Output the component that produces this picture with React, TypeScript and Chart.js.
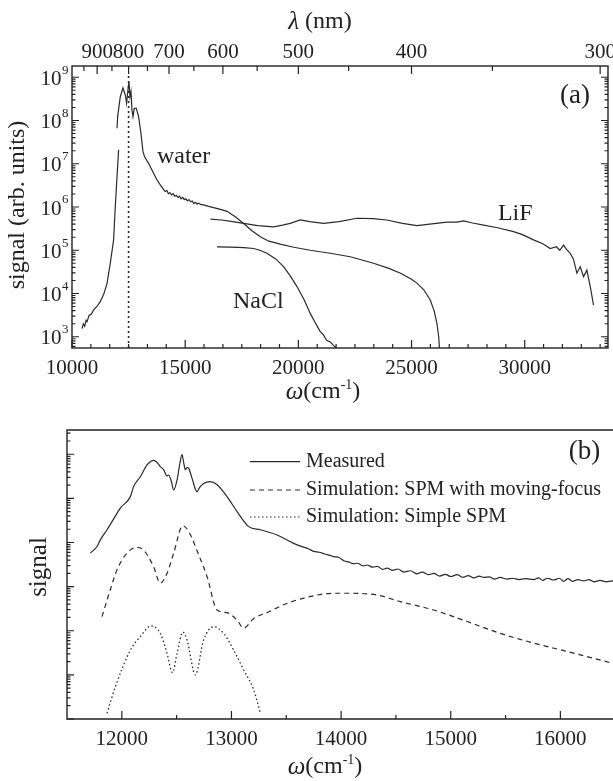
import React, { useEffect, useRef } from 'react';
import { Chart, registerables } from 'chart.js';

Chart.register(...registerables);

const INK = '#222222';
const LINE = '#2a2a2a';
const SERIF = '"Liberation Serif", "DejaVu Serif", serif';

// ---------------- Panel (a): ω in cm^-1, signal as log10 ----------------
const waterOmega = [10442, 10500, 10560, 10620, 10663, 10760, 10850, 10957, 11100, 11250, 11400, 11546, 11692, 11838, 11913, 11988, 12059,
  12059, 11988, 12017, 12133, 12252, 12354, 12412, 12473, 12517, 12561, 12606, 12650, 12694, 12752, 12840, 12943, 13047, 13136, 13207,
  13384, 13604, 13750, 13900, 14050, 14120, 14190, 14260, 14330, 14400, 14470, 14540, 14610, 14680, 14750, 14820, 14890, 14960, 15030,
  15100, 15170, 15240, 15310, 15380, 15450, 15520, 15600, 15675, 15800, 16000, 16300, 16600, 16846, 17200, 17580, 17950, 18317, 18700,
  19200, 19800, 20526, 21409, 22293, 23322, 24000, 24515, 25000, 25240, 25550, 25826, 26000, 26122, 26200, 26240];
const waterLog10 = [3.19, 3.30, 3.24, 3.38, 3.35, 3.50, 3.52, 3.62, 3.70, 3.81, 3.98, 4.23, 4.70, 5.24, 6.01, 6.70, 7.32,
  null, 7.82, 8.09, 8.55, 8.75, 8.59, 8.40, 8.71, 8.90, 8.55, 8.67, 8.24, 8.09, 8.28, 8.28, 8.09, 7.70, 7.28, 7.16,
  7.01, 6.78, 6.63, 6.51, 6.40, 6.36, 6.38, 6.31, 6.33, 6.28, 6.31, 6.25, 6.27, 6.22, 6.25, 6.19, 6.22, 6.17, 6.19,
  6.14, 6.17, 6.12, 6.14, 6.08, 6.11, 6.07, 6.09, 6.06, 6.05, 6.02, 5.98, 5.94, 5.90, 5.78, 5.62, 5.45, 5.31, 5.21,
  5.14, 5.07, 5.00, 4.93, 4.85, 4.70, 4.58, 4.47, 4.33, 4.24, 4.08, 3.85, 3.60, 3.31, 3.00, 2.70];

const lifOmega = [16118, 16600, 17100, 17580, 18200, 18905, 19300, 19641, 20083, 20500, 21113, 21800, 22588, 23300, 23913, 24600,
  25238, 25900, 26563, 27000, 27299, 27700, 28182, 28800, 29507, 29900, 30390, 30800, 31127, 31400, 31550, 31715, 31850, 32010,
  32150, 32306, 32453, 32600, 32747, 32900, 33040];
const lifLog10 = [5.72, 5.70, 5.66, 5.62, 5.57, 5.54, 5.58, 5.62, 5.70, 5.66, 5.62, 5.66, 5.74, 5.73, 5.70, 5.62,
  5.57, 5.61, 5.65, 5.65, 5.68, 5.63, 5.58, 5.52, 5.43, 5.36, 5.24, 5.15, 5.04, 5.08, 5.00, 5.12, 5.02, 4.93,
  4.80, 4.47, 4.62, 4.39, 4.54, 4.15, 3.73];

const naclOmega = [16405, 17000, 17600, 18021, 18300, 18610, 19000, 19346, 19650, 19939, 20250, 20525, 20750, 20967, 21100, 21250,
  21409, 21550, 21704];
const naclLog10 = [5.08, 5.07, 5.06, 5.04, 5.00, 4.93, 4.80, 4.62, 4.40, 4.16, 3.86, 3.54, 3.32, 3.12, 3.05, 2.92, 2.88, 2.80, 2.73];

const pumpOmega = 12500; // 800 nm marker
const pumpTopLog10 = 9.1;

const omegaLabelsA = [10000, 15000, 20000, 25000, 30000];
const lambdaLabels = [900, 800, 700, 600, 500, 400, 300];
const lambdaMinor = [950, 850, 750, 650, 550, 450, 350];
const decadeLabelsA = [3, 4, 5, 6, 7, 8, 9];

// ---------------- Panel (b) ----------------
const measuredOmega = [11713, 11774, 11804, 11865, 11956, 11986, 12078, 12108, 12169, 12230, 12260, 12290, 12320, 12351, 12381,
  12412, 12427, 12450, 12473, 12504, 12530, 12549, 12565, 12579, 12595, 12610, 12640, 12686, 12710, 12746, 12807, 12869, 12960,
  13051, 13157, 13264, 13416, 13568, 13650, 13700, 13750, 13800, 13850, 13900, 13932, 13980, 14030, 14069, 14110, 14150, 14200,
  14237, 14290, 14330, 14380, 14420, 14470, 14520, 14570, 14632, 14690, 14740, 14800, 14845, 14900, 14950, 15000, 15058, 15110,
  15160, 15210, 15260, 15301, 15350, 15400, 15450, 15515, 15570, 15620, 15680, 15757, 15800, 15840, 15880, 15940, 15990, 16030,
  16070, 16110, 16160, 16214, 16260, 16310, 16360, 16420, 16473, 16490];
const measuredLog10 = [3.76, 3.91, 4.06, 4.29, 4.66, 4.78, 5.04, 5.27, 5.49, 5.76, 5.83, 5.86, 5.82, 5.72, 5.65,
  5.51, 5.53, 5.40, 5.19, 5.42, 5.80, 5.99, 5.80, 5.65, 5.70, 5.68, 5.46, 5.15, 5.25, 5.34, 5.38, 5.31, 5.04,
  4.70, 4.36, 4.29, 4.17, 3.98, 3.90, 3.86, 3.80, 3.78, 3.74, 3.71, 3.68, 3.66, 3.58, 3.56, 3.52, 3.53, 3.47,
  3.49, 3.44, 3.46, 3.39, 3.42, 3.37, 3.40, 3.33, 3.36, 3.29, 3.33, 3.27, 3.30, 3.24, 3.28, 3.23, 3.27, 3.21,
  3.25, 3.20, 3.24, 3.21, 3.22, 3.17, 3.21, 3.17, 3.19, 3.16, 3.18, 3.16, 3.20, 3.14, 3.19, 3.15, 3.19, 3.12,
  3.18, 3.12, 3.16, 3.13, 3.16, 3.11, 3.14, 3.11, 3.13, 3.11];

const movingFocusOmega = [11819, 11895, 11956, 12047, 12139, 12199, 12290, 12351, 12412, 12473, 12556, 12610, 12701, 12777, 12869,
  12960, 13051, 13112, 13203, 13325, 13476, 13690, 13932, 14085, 14328, 14541, 14845, 15150, 15453, 15757, 16062, 16480];
const movingFocusLog10 = [2.32, 2.93, 3.38, 3.76, 3.89, 3.83, 3.45, 3.08, 3.30, 3.76, 4.38, 4.25, 3.72, 3.23, 2.47,
  2.41, 2.24, 2.06, 2.28, 2.41, 2.59, 2.76, 2.85, 2.85, 2.81, 2.66, 2.47, 2.21, 1.94, 1.72, 1.53, 1.26];

const simpleOmega = [11865, 11941, 12078, 12169, 12268, 12351, 12412, 12462, 12504, 12557, 12595, 12671, 12746, 12838, 12929,
  13020, 13112, 13203, 13264];
const simpleLog10 = [0.13, 0.73, 1.56, 1.87, 2.11, 1.94, 1.49, 1.05, 1.49, 1.97, 1.79, 1.00, 1.79, 2.09, 1.94,
  1.56, 1.11, 0.66, 0.13];

const omegaLabelsB = [12000, 13000, 14000, 15000, 16000];
const omegaMinorB = [12500, 13500, 14500, 15500];

const legendLabels = ['Measured', 'Simulation: SPM with moving-focus', 'Simulation: Simple SPM'];

// ---------------- helpers ----------------
const toPoints = (xs: number[], logs: (number | null)[]) =>
  xs.map((x, i) => ({ x, y: logs[i] === null ? null : Math.pow(10, logs[i] as number) }));

type Part = [string, string, number];
function drawRich(ctx: CanvasRenderingContext2D, parts: Part[], x: number, y: number, align: 'left' | 'center' | 'right') {
  let total = 0;
  for (const p of parts) { ctx.font = p[1]; total += ctx.measureText(p[0]).width; }
  let cx = align === 'center' ? x - total / 2 : align === 'right' ? x - total : x;
  ctx.textAlign = 'left';
  ctx.textBaseline = 'middle';
  for (const p of parts) {
    ctx.font = p[1];
    ctx.fillText(p[0], cx, y + p[2]);
    cx += ctx.measureText(p[0]).width;
  }
}

const f = (size: number, style = '') => `${style} ${size}px ${SERIF}`.trim();

function logTicks(ctx: CanvasRenderingContext2D, ys: any, x0: number, dir: number, eMin: number, eMax: number) {
  for (let e = eMin; e <= eMax; e++) {
    for (let m = 1; m <= 9; m++) {
      const v = m * Math.pow(10, e);
      if (v < ys.min || v > ys.max) continue;
      const py = ys.getPixelForValue(v);
      const len = m === 1 ? 7 : 3.5;
      ctx.moveTo(x0, py);
      ctx.lineTo(x0 + dir * len, py);
    }
  }
}

const omegaTitle = (): Part[] => [
  ['ω', f(25, 'italic'), 0],
  ['(cm', f(24), 0],
  ['-1', f(14), -7],
  [')', f(24), 0],
];

const panelAPlugin = {
  id: 'panelA',
  afterDraw(chart: any) {
    const { ctx, chartArea: a } = chart;
    const xs = chart.scales.x;
    const ys = chart.scales.y;
    ctx.save();
    ctx.strokeStyle = INK;
    ctx.fillStyle = INK;
    ctx.lineWidth = 1.4;
    ctx.strokeRect(a.left, a.top, a.right - a.left, a.bottom - a.top);

    ctx.lineWidth = 1.2;
    ctx.beginPath();
    // bottom ω ticks (major every 5000, 5 minor between)
    const step = 5000 / 6;
    for (let k = 0; ; k++) {
      const v = omegaLabelsA[0] + k * step;
      if (v > xs.max) break;
      const px = xs.getPixelForValue(v);
      const len = k % 6 === 0 ? 8 : 4;
      ctx.moveTo(px, a.bottom);
      ctx.lineTo(px, a.bottom - len);
    }
    // top λ ticks
    for (const l of lambdaLabels) {
      const px = xs.getPixelForValue(1e7 / l);
      ctx.moveTo(px, a.top);
      ctx.lineTo(px, a.top + 8);
    }
    for (const l of lambdaMinor) {
      const px = xs.getPixelForValue(1e7 / l);
      ctx.moveTo(px, a.top);
      ctx.lineTo(px, a.top + 5);
    }
    logTicks(ctx, ys, a.left, 1, 2, 9);
    logTicks(ctx, ys, a.right, -1, 2, 9);
    ctx.stroke();

    // bottom labels
    ctx.textAlign = 'center';
    ctx.textBaseline = 'middle';
    ctx.font = f(21);
    for (const v of omegaLabelsA) ctx.fillText(String(v), xs.getPixelForValue(v), a.bottom + 20);
    // top labels
    for (const l of lambdaLabels) ctx.fillText(String(l), xs.getPixelForValue(1e7 / l), a.top - 14);
    // y labels
    for (const e of decadeLabelsA) {
      const py = ys.getPixelForValue(Math.pow(10, e));
      ctx.font = f(13);
      const sw = ctx.measureText(String(e)).width;
      ctx.textAlign = 'right';
      ctx.fillText(String(e), a.left - 3.5, py - 7);
      ctx.font = f(21);
      ctx.fillText('10', a.left - 4 - sw, py + 2);
    }
    // titles
    drawRich(ctx, [['λ', f(25, 'italic'), 0], [' (nm)', f(24), 0]], 320, 22, 'center');
    drawRich(ctx, omegaTitle(), 323, 392, 'center');
    ctx.save();
    ctx.translate(17.5, 205);
    ctx.rotate(-Math.PI / 2);
    ctx.textAlign = 'center';
    ctx.textBaseline = 'middle';
    ctx.font = f(24);
    ctx.fillText('signal (arb. units)', 0, 0);
    ctx.restore();

    // annotations anchored in data space
    ctx.textAlign = 'left';
    ctx.textBaseline = 'middle';
    ctx.font = f(24);
    ctx.fillText('water', xs.getPixelForValue(13754), ys.getPixelForValue(Math.pow(10, 7.16)));
    ctx.fillText('LiF', xs.getPixelForValue(28817), ys.getPixelForValue(Math.pow(10, 5.84)));
    ctx.fillText('NaCl', xs.getPixelForValue(17111), ys.getPixelForValue(Math.pow(10, 3.8)));
    ctx.textAlign = 'right';
    ctx.font = f(27);
    ctx.fillText('(a)', xs.getPixelForValue(32880), ys.getPixelForValue(Math.pow(10, 8.57)));
    ctx.restore();
  },
};

const panelBPlugin = {
  id: 'panelB',
  afterDraw(chart: any) {
    const { ctx, chartArea: a } = chart;
    const xs = chart.scales.x;
    const ys = chart.scales.y;
    ctx.save();
    ctx.strokeStyle = INK;
    ctx.fillStyle = INK;
    ctx.lineWidth = 1.4;
    ctx.beginPath();
    ctx.moveTo(a.right + 2, a.top);
    ctx.lineTo(a.left, a.top);
    ctx.lineTo(a.left, a.bottom);
    ctx.lineTo(a.right + 2, a.bottom);
    ctx.stroke();

    ctx.lineWidth = 1.2;
    ctx.beginPath();
    for (const v of omegaLabelsB) {
      const px = xs.getPixelForValue(v);
      ctx.moveTo(px, a.bottom);
      ctx.lineTo(px, a.bottom - 8);
    }
    for (const v of omegaMinorB) {
      const px = xs.getPixelForValue(v);
      ctx.moveTo(px, a.bottom);
      ctx.lineTo(px, a.bottom - 4);
    }
    logTicks(ctx, ys, a.left, 1, 0, 6);
    ctx.stroke();

    ctx.textAlign = 'center';
    ctx.textBaseline = 'middle';
    ctx.font = f(21);
    for (const v of omegaLabelsB) ctx.fillText(String(v), xs.getPixelForValue(v), a.bottom + 20);
    drawRich(ctx, omegaTitle(), 325, a.bottom + 48, 'center');

    ctx.save();
    ctx.translate(39, 157);
    ctx.rotate(-Math.PI / 2);
    ctx.textAlign = 'center';
    ctx.textBaseline = 'middle';
    ctx.font = f(25);
    ctx.fillText('signal', 0, 0);
    ctx.restore();

    // legend
    const dashes = [[], [5, 4], [1.5, 2.5]];
    const rows = [a.top + 31.7, a.top + 60, a.top + 87];
    rows.forEach((ry, i) => {
      ctx.save();
      ctx.strokeStyle = LINE;
      ctx.lineWidth = 1.2;
      ctx.setLineDash(dashes[i]);
      ctx.beginPath();
      ctx.moveTo(250, ry);
      ctx.lineTo(300, ry);
      ctx.stroke();
      ctx.restore();
      ctx.textAlign = 'left';
      ctx.textBaseline = 'middle';
      ctx.font = f(20);
      ctx.fillText(legendLabels[i], 306, ry);
    });

    ctx.textAlign = 'right';
    ctx.font = f(27);
    ctx.fillText('(b)', xs.getPixelForValue(16363), ys.getPixelForValue(Math.pow(10, 6.05)));
    ctx.restore();
  },
};

const lineDs = (data: any[], dash: number[] = [], width = 1.2, smooth = false) => ({
  data,
  borderColor: LINE,
  borderWidth: width,
  borderDash: dash,
  pointRadius: 0,
  fill: false,
  spanGaps: false,
  tension: smooth ? 0.4 : 0,
  cubicInterpolationMode: smooth ? ('monotone' as const) : ('default' as const),
});

export default function App() {
  const topRef = useRef<HTMLCanvasElement>(null);
  const botRef = useRef<HTMLCanvasElement>(null);

  useEffect(() => {
    const hidden = { display: false };
    const top = new Chart(topRef.current as HTMLCanvasElement, {
      type: 'line',
      data: {
        datasets: [
          lineDs(toPoints(waterOmega, waterLog10)),
          lineDs(toPoints(lifOmega, lifLog10)),
          lineDs(toPoints(naclOmega, naclLog10)),
          lineDs([{ x: pumpOmega, y: Math.pow(10, 2.74) }, { x: pumpOmega, y: Math.pow(10, pumpTopLog10) }], [2, 3], 1.6),
        ] as any,
      },
      options: {
        responsive: false,
        animation: false,
        layout: { padding: { left: 72, right: 5, top: 66, bottom: 62 } },
        plugins: { legend: hidden, tooltip: { enabled: false } },
        scales: {
          x: { type: 'linear', min: 10000, max: 33680, display: false },
          y: { type: 'logarithmic', min: Math.pow(10, 2.74), max: Math.pow(10, 9.26), display: false },
        },
      },
      plugins: [panelAPlugin],
    });

    const bot = new Chart(botRef.current as HTMLCanvasElement, {
      type: 'line',
      data: {
        datasets: [
          lineDs(toPoints(measuredOmega, measuredLog10), [], 1.2, true),
          lineDs(toPoints(movingFocusOmega, movingFocusLog10), [5, 4], 1.2, true),
          lineDs(toPoints(simpleOmega, simpleLog10), [1.5, 2.5], 1.3, true),
        ] as any,
      },
      options: {
        responsive: false,
        animation: false,
        layout: { padding: { left: 67, right: 0, top: 20, bottom: 62 } },
        plugins: { legend: hidden, tooltip: { enabled: false } },
        scales: {
          x: { type: 'linear', min: 11500, max: 16480, display: false },
          y: { type: 'logarithmic', min: 1, max: Math.pow(10, 6.55), display: false },
        },
      },
      plugins: [panelBPlugin],
    });

    return () => {
      top.destroy();
      bot.destroy();
    };
  }, []);

  return (
    <div style={{ position: 'absolute', left: 0, top: 0, width: 613, height: 781, background: '#fff', overflow: 'hidden' }}>
      <canvas ref={topRef} width={613} height={410} style={{ position: 'absolute', left: 0, top: 0, width: 613, height: 410 }} />
      <canvas ref={botRef} width={613} height={371} style={{ position: 'absolute', left: 0, top: 410, width: 613, height: 371 }} />
    </div>
  );
}
